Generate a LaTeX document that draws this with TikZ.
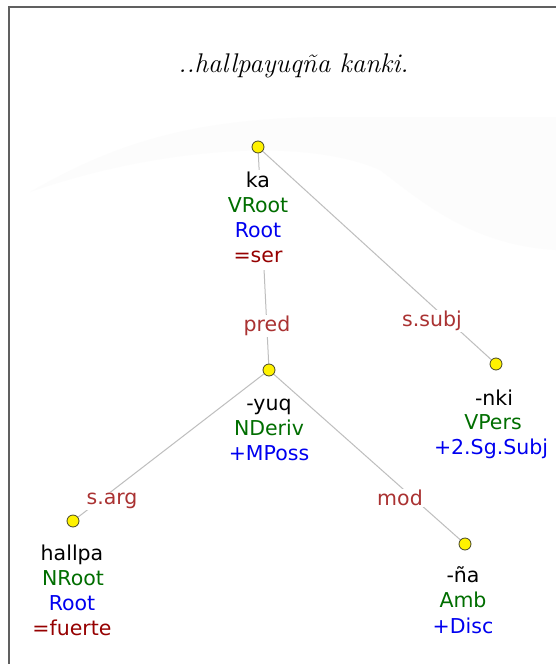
\documentclass[tikz,border=0pt]{standalone}
\usepackage{fontspec}
\newfontfamily\dejavu{DejaVu Sans}
\usetikzlibrary{backgrounds}
\definecolor{vgreen}{RGB}{0,110,0}
\definecolor{vblue}{RGB}{0,0,240}
\definecolor{vred}{RGB}{150,0,0}
\definecolor{relred}{RGB}{170,50,50}
\definecolor{edgegray}{RGB}{190,190,190}
\definecolor{framegray}{RGB}{96,96,96}
\definecolor{dotline}{RGB}{70,70,40}
\definecolor{haze}{RGB}{252,252,252}
\tikzset{
  tok/.style={fill=white, inner xsep=1pt, inner ysep=1.5pt, anchor=base,
    text height=16pt, text depth=6pt,
    font=\dejavu\fontsize{20.5}{24}\selectfont},
  form/.style={tok, text=black},
  cat/.style={tok, text=vgreen},
  feat/.style={tok, text=vblue},
  gloss/.style={tok, text=vred},
  rel/.style={fill=white, inner sep=1pt, text=relred,
    font=\dejavu\fontsize{20.5}{24}\selectfont},
  dot/.style={circle, fill=yellow, draw=dotline, line width=0.8pt,
    minimum size=12pt, inner sep=0pt},
  link/.style={draw=edgegray, line width=1pt},
}
\begin{document}
\begin{tikzpicture}[x=1pt, y=-1pt]
\useasboundingbox (0,0) rectangle (556,664);
% title
\node[font=\fontsize{27}{32}\selectfont\itshape, anchor=base, inner sep=0pt] (title) at (293.5,72) {..hallpayuqña kanki.};
% dots
\node[dot] (ka) at (258,147) {};
\node[dot] (yuq) at (269,370) {};
\node[dot] (nki) at (496,364) {};
\node[dot] (hallpa) at (73,521) {};
\node[dot] (na) at (465,544) {};
% token texts
\node[form]  (ka1) at (258,187) {ka};
\node[cat]   (ka2) at (258,212.3) {VRoot};
\node[feat]  (ka3) at (258,237.6) {Root};
\node[gloss] (ka4) at (258,262.9) {=ser};
\node[form]  (yuq1) at (269,410) {-yuq};
\node[cat]   (yuq2) at (269,435) {NDeriv};
\node[feat]  (yuq3) at (269,460) {+MPoss};
\node[form]  (nki1) at (494,405) {-nki};
\node[cat]   (nki2) at (493,429.5) {VPers};
\node[feat]  (nki3) at (491,454) {+2.Sg.Subj};
\node[form]  (hallpa1) at (72,560) {hallpa};
\node[cat]   (hallpa2) at (73,585) {NRoot};
\node[feat]  (hallpa3) at (72,610) {Root};
\node[gloss] (hallpa4) at (72,635) {=fuerte};
\node[form]  (na1) at (463,582) {-ña};
\node[cat]   (na2) at (463,607.5) {Amb};
\node[feat]  (na3) at (463,633) {+Disc};
% relation labels
\node[rel] (lpred) at (267,326) {pred};
\node[rel] (lsubj) at (432,321) {s.subj};
\node[rel] (larg) at (112,501) {s.arg};
\node[rel] (lmod) at (400,498) {mod};
\begin{pgfonlayer}{background}
\fill[white] (0,0) rectangle (556,664);
% faint haze
\fill[haze] (30,192) .. controls (120,140) and (200,118) .. (330,117) -- (556,117) -- (556,250)
  .. controls (470,245) and (420,200) .. (380,170) .. controls (300,135) and (150,150) .. (30,192) -- cycle;
% frame
\draw[framegray, line width=2pt] (560,6.5) -- (8.5,6.5) -- (8.5,670);
% edges
\draw[link] (ka) -- (yuq);
\draw[link] (ka) -- (nki);
\draw[link] (yuq) -- (hallpa);
\draw[link] (yuq) -- (na);
\end{pgfonlayer}
\end{tikzpicture}
\end{document}
